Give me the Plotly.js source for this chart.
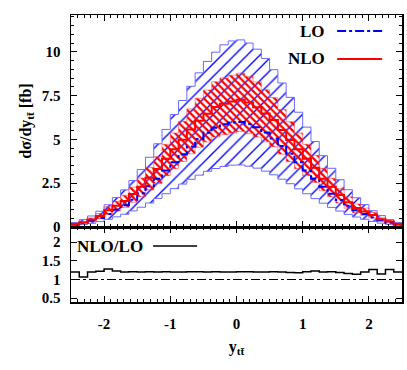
<!DOCTYPE html>
<html>
<head>
<meta charset="utf-8">
<script src="https://cdn.plot.ly/plotly-3.0.1.min.js"></script>
<style>
  body { margin: 0; background: #fff; }
  #grafica { width: 407px; height: 370px; }
</style>
</head>
<body>
<div id="grafica"></div>
<script>
// bordes de los bins (40 bins de 0.125)
const binEdges = [-2.5, -2.375, -2.25, -2.125, -2.0, -1.875, -1.75, -1.625, -1.5, -1.375,
  -1.25, -1.125, -1.0, -0.875, -0.75, -0.625, -0.5, -0.375, -0.25, -0.125,
  0.0, 0.125, 0.25, 0.375, 0.5, 0.625, 0.75, 0.875, 1.0, 1.125,
  1.25, 1.375, 1.5, 1.625, 1.75, 1.875, 2.0, 2.125, 2.25, 2.375, 2.5];

const loCentral = [0.14, 0.24, 0.36, 0.52, 0.74, 0.98, 1.24, 1.55, 1.92, 2.32,
  2.76, 3.22, 3.70, 4.15, 4.60, 5.02, 5.38, 5.66, 5.86, 5.97,
  6.00, 5.88, 5.70, 5.40, 5.05, 4.62, 4.18, 3.70, 3.22, 2.75,
  2.30, 1.90, 1.54, 1.22, 0.96, 0.74, 0.54, 0.38, 0.25, 0.14];
const loUpper = [0.26, 0.42, 0.63, 0.90, 1.27, 1.68, 2.12, 2.65, 3.28, 3.98,
  4.75, 5.57, 6.42, 7.22, 8.03, 8.80, 9.45, 9.98, 10.40, 10.62,
  10.68, 10.50, 10.15, 9.62, 8.98, 8.22, 7.40, 6.55, 5.70, 4.88,
  4.07, 3.35, 2.70, 2.13, 1.67, 1.28, 0.93, 0.65, 0.42, 0.25];
const loLower = [0.08, 0.14, 0.21, 0.31, 0.44, 0.58, 0.73, 0.92, 1.13, 1.37,
  1.63, 1.90, 2.19, 2.45, 2.72, 2.96, 3.18, 3.34, 3.46, 3.53,
  3.54, 3.47, 3.36, 3.19, 2.98, 2.73, 2.47, 2.18, 1.90, 1.62,
  1.36, 1.12, 0.91, 0.72, 0.57, 0.44, 0.32, 0.22, 0.15, 0.08];

const nloCentral = [0.17, 0.26, 0.43, 0.63, 0.95, 1.21, 1.49, 1.88, 2.30, 2.81,
  3.31, 3.90, 4.44, 4.98, 5.57, 6.07, 6.46, 6.85, 7.03, 7.16,
  7.26, 7.11, 6.84, 6.48, 6.11, 5.54, 4.97, 4.44, 3.90, 3.38,
  2.76, 2.30, 1.83, 1.42, 1.09, 0.89, 0.69, 0.44, 0.32, 0.17];
const nloUpper = [0.21, 0.32, 0.52, 0.77, 1.15, 1.47, 1.81, 2.28, 2.79, 3.40,
  4.01, 4.72, 5.37, 6.03, 6.74, 7.35, 7.82, 8.29, 8.51, 8.66,
  8.78, 8.60, 8.28, 7.84, 7.39, 6.70, 6.01, 5.37, 4.72, 4.09,
  3.34, 2.78, 2.21, 1.72, 1.32, 1.08, 0.83, 0.53, 0.39, 0.21];
const nloLower = [0.13, 0.20, 0.32, 0.47, 0.71, 0.91, 1.12, 1.41, 1.73, 2.11,
  2.48, 2.93, 3.33, 3.74, 4.18, 4.55, 4.85, 5.14, 5.27, 5.37,
  5.45, 5.33, 5.13, 4.86, 4.58, 4.16, 3.73, 3.33, 2.93, 2.54,
  2.07, 1.73, 1.37, 1.07, 0.82, 0.67, 0.52, 0.33, 0.24, 0.13];

const ratio = [1.20, 1.07, 1.20, 1.22, 1.28, 1.23, 1.20, 1.21, 1.20, 1.21,
  1.20, 1.21, 1.20, 1.20, 1.21, 1.21, 1.20, 1.21, 1.20, 1.20,
  1.21, 1.21, 1.20, 1.20, 1.21, 1.20, 1.19, 1.18, 1.21, 1.23,
  1.20, 1.21, 1.19, 1.16, 1.14, 1.20, 1.27, 1.15, 1.27, 1.20];

// repetir el ultimo valor para cerrar el escalon
function escalon(v) {
    return v.concat([v[v.length - 1]]);
}

const fuente = { family: "Liberation Serif, 'Times New Roman', serif", size: 15, color: "black", weight: "bold" };
const fuenteTitulo = Object.assign({}, fuente, { size: 16 });

const ejeComun = {
    showline: true, linecolor: "black", linewidth: 1.5, mirror: "allticks",
    ticks: "inside", ticklen: 6, tickwidth: 1, tickcolor: "black",
    showgrid: false, zeroline: false, tickfont: fuente
};

const traces = [
    { x: binEdges, y: escalon(loLower), xaxis: "x2", yaxis: "y2", mode: "lines",
      line: { shape: "hv", color: "#6a6aff", width: 1 }, hoverinfo: "skip" },
    { x: binEdges, y: escalon(loUpper), xaxis: "x2", yaxis: "y2", mode: "lines",
      line: { shape: "hv", color: "#6a6aff", width: 1 }, fill: "tonexty",
      fillcolor: "rgba(0,0,0,0)",
      fillpattern: { shape: "/", fgcolor: "#0000ff", bgcolor: "rgba(0,0,0,0)", size: 9, solidity: 0.15, fillmode: "replace" } },
    { x: binEdges, y: escalon(nloLower), xaxis: "x2", yaxis: "y2", mode: "lines",
      line: { shape: "hv", color: "rgba(255,60,60,0.55)", width: 1 } },
    { x: binEdges, y: escalon(nloUpper), xaxis: "x2", yaxis: "y2", mode: "lines",
      line: { shape: "hv", color: "rgba(255,60,60,0.55)", width: 1 }, fill: "tonexty",
      fillcolor: "rgba(0,0,0,0)",
      fillpattern: { shape: "\\", fgcolor: "#ff0000", bgcolor: "rgba(0,0,0,0)", size: 5, solidity: 0.45, fillmode: "replace" } },
    { x: binEdges, y: escalon(loCentral), xaxis: "x2", yaxis: "y2", mode: "lines", name: "LO",
      line: { shape: "hv", color: "#0000ff", width: 2, dash: "dashdot" } },
    { x: binEdges, y: escalon(nloCentral), xaxis: "x2", yaxis: "y2", mode: "lines", name: "NLO",
      line: { shape: "hv", color: "#ff0000", width: 2 } },
    { x: binEdges, y: escalon(ratio), xaxis: "x", yaxis: "y", mode: "lines", name: "NLO/LO",
      line: { shape: "hv", color: "black", width: 1.5 } }
];

const split = 0.2613;

const layout = {
    width: 407, height: 370,
    margin: { l: 71, r: 5, t: 15, b: 68 },
    paper_bgcolor: "white", plot_bgcolor: "white",
    showlegend: false,
    font: fuente,
    xaxis: Object.assign({}, ejeComun, {
        domain: [0, 1], anchor: "y", range: [-2.5, 2.5],
        tickvals: [-2, -1, 0, 1, 2], ticktext: ["-2", "-1", "0", "1", "2"],
        minor: { dtick: 0.1, tick0: 0, ticks: "inside", ticklen: 3, tickcolor: "black" },
        ticklabelstandoff: 7,
        title: { text: "y<sub>tt̄</sub>", font: fuenteTitulo, standoff: 10 }
    }),
    xaxis2: Object.assign({}, ejeComun, {
        domain: [0, 1], anchor: "y2", matches: "x", showticklabels: false,
        tickvals: [-2, -1, 0, 1, 2],
        minor: { dtick: 0.1, tick0: 0, ticks: "inside", ticklen: 3, tickcolor: "black" }
    }),
    yaxis: Object.assign({}, ejeComun, {
        domain: [0, split], anchor: "x", range: [0.4, 2.4],
        tickvals: [0.5, 1, 1.5, 2], ticktext: ["0.5", "1", "1.5", "2"],
        ticklabelstandoff: 6
    }),
    yaxis2: Object.assign({}, ejeComun, {
        domain: [split, 1], anchor: "x2", range: [0, 12.1],
        tickvals: [0, 2.5, 5, 7.5, 10], ticktext: ["0", "2.5", "5", "7.5", "10"],
        minor: { dtick: 0.5, ticks: "inside", ticklen: 3, tickcolor: "black" },
        ticklabelstandoff: 6,
        title: { text: "dσ/dy<sub>tt̄</sub> [fb]", font: fuenteTitulo, standoff: 6 }
    }),
    shapes: [
        { type: "line", xref: "x domain", yref: "y", x0: 0, x1: 1, y0: 1, y1: 1,
          line: { color: "black", width: 1, dash: "dashdot" } },
        { type: "line", xref: "paper", yref: "paper", x0: 0.804, x1: 0.94, y0: 0.944, y1: 0.944,
          line: { color: "#0000ff", width: 2, dash: "dashdot" } },
        { type: "line", xref: "paper", yref: "paper", x0: 0.804, x1: 0.94, y0: 0.847, y1: 0.847,
          line: { color: "#ff0000", width: 2 } },
        { type: "line", xref: "paper", yref: "paper", x0: 0.248, x1: 0.381, y0: 0.195, y1: 0.195,
          line: { color: "black", width: 1.5 } }
    ],
    annotations: [
        { xref: "paper", yref: "paper", x: 0.772, y: 0.944, xanchor: "right", yanchor: "middle",
          text: "LO", showarrow: false, font: Object.assign({}, fuente, { size: 17 }) },
        { xref: "paper", yref: "paper", x: 0.772, y: 0.847, xanchor: "right", yanchor: "middle",
          text: "NLO", showarrow: false, font: Object.assign({}, fuente, { size: 17 }) },
        { xref: "paper", yref: "paper", x: 0.012, y: 0.195, xanchor: "left", yanchor: "middle",
          text: "NLO/LO", showarrow: false, font: Object.assign({}, fuente, { size: 17 }) }
    ]
};

Plotly.newPlot("grafica", traces, layout, { staticPlot: true });
</script>
</body>
</html>
